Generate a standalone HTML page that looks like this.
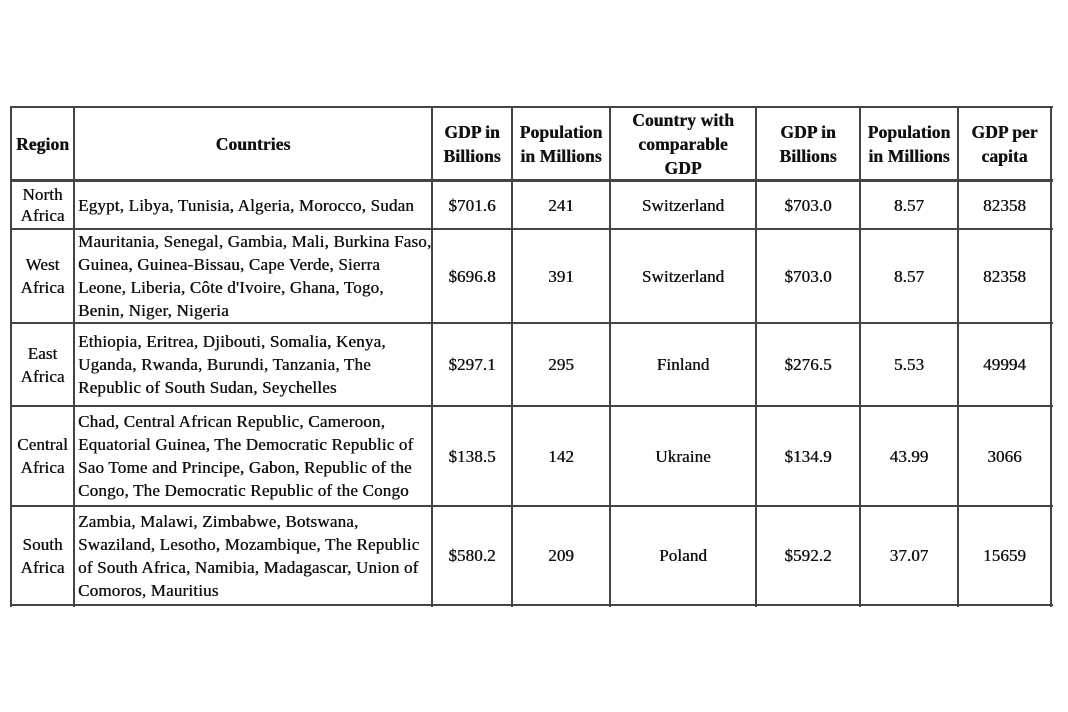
<!DOCTYPE html>
<html><head><style>
body{margin:0;width:1068px;height:712px;background:#fff;position:relative;font-family:"Liberation Serif",serif;color:#111;overflow:hidden}
.h{position:absolute;background:#444;height:2px}
.v{position:absolute;background:#444;width:2px;top:107px;height:500px}
.c{position:absolute;display:flex;align-items:center;justify-content:center;text-align:center;font-size:17px;line-height:23px;text-shadow:0.4px 0 0 #111;letter-spacing:0.1px}
.b{font-weight:bold;font-size:17.5px;line-height:24px}
.l{justify-content:flex-start;text-align:left;letter-spacing:0.2px;white-space:nowrap}
</style></head><body>
<div class="h" style="left:10px;width:1043px;top:106px"></div>
<div class="h" style="left:10px;width:1043px;top:179px;height:3px"></div>
<div class="h" style="left:10px;width:1043px;top:228px"></div>
<div class="h" style="left:10px;width:1043px;top:322px"></div>
<div class="h" style="left:10px;width:1043px;top:405px"></div>
<div class="h" style="left:10px;width:1043px;top:505px"></div>
<div class="h" style="left:10px;width:1043px;top:604px"></div>
<div class="v" style="left:10px"></div>
<div class="v" style="left:73px"></div>
<div class="v" style="left:431px"></div>
<div class="v" style="left:511px"></div>
<div class="v" style="left:609px"></div>
<div class="v" style="left:755px"></div>
<div class="v" style="left:859px"></div>
<div class="v" style="left:957px"></div>
<div class="v" style="left:1050px"></div>

<div class="c b" style="left:12px;width:61px;top:108px;height:71px">Region</div>
<div class="c b" style="left:75px;width:356px;top:108px;height:71px">Countries</div>
<div class="c b" style="left:433px;width:78px;top:108px;height:71px">GDP in<br>Billions</div>
<div class="c b" style="left:513px;width:96px;top:108px;height:71px">Population<br>in Millions</div>
<div class="c b" style="left:611px;width:144px;top:108px;height:71px">Country with<br>comparable<br>GDP</div>
<div class="c b" style="left:757px;width:102px;top:108px;height:71px">GDP in<br>Billions</div>
<div class="c b" style="left:861px;width:96px;top:108px;height:71px">Population<br>in Millions</div>
<div class="c b" style="left:959px;width:91px;top:108px;height:71px">GDP per<br>capita</div>

<div class="c" style="left:12px;width:61px;top:182px;height:46px;line-height:21px">North<br>Africa</div>
<div class="c l" style="left:78px;width:353px;top:182px;height:46px">Egypt, Libya, Tunisia, Algeria, Morocco, Sudan</div>
<div class="c" style="left:433px;width:78px;top:182px;height:46px">$701.6</div>
<div class="c" style="left:513px;width:96px;top:182px;height:46px">241</div>
<div class="c" style="left:611px;width:144px;top:182px;height:46px">Switzerland</div>
<div class="c" style="left:757px;width:102px;top:182px;height:46px">$703.0</div>
<div class="c" style="left:861px;width:96px;top:182px;height:46px">8.57</div>
<div class="c" style="left:959px;width:91px;top:182px;height:46px">82358</div>

<div class="c" style="left:12px;width:61px;top:230px;height:92px">West<br>Africa</div>
<div class="c l" style="left:78px;width:353px;top:230px;height:92px">Mauritania, Senegal, Gambia, Mali, Burkina Faso,<br>Guinea, Guinea-Bissau, Cape Verde, Sierra<br>Leone, Liberia, Côte d'Ivoire, Ghana, Togo,<br>Benin, Niger, Nigeria</div>
<div class="c" style="left:433px;width:78px;top:230px;height:92px">$696.8</div>
<div class="c" style="left:513px;width:96px;top:230px;height:92px">391</div>
<div class="c" style="left:611px;width:144px;top:230px;height:92px">Switzerland</div>
<div class="c" style="left:757px;width:102px;top:230px;height:92px">$703.0</div>
<div class="c" style="left:861px;width:96px;top:230px;height:92px">8.57</div>
<div class="c" style="left:959px;width:91px;top:230px;height:92px">82358</div>

<div class="c" style="left:12px;width:61px;top:324px;height:81px">East<br>Africa</div>
<div class="c l" style="left:78px;width:353px;top:324px;height:81px">Ethiopia, Eritrea, Djibouti, Somalia, Kenya,<br>Uganda, Rwanda, Burundi, Tanzania, The<br>Republic of South Sudan, Seychelles</div>
<div class="c" style="left:433px;width:78px;top:324px;height:81px">$297.1</div>
<div class="c" style="left:513px;width:96px;top:324px;height:81px">295</div>
<div class="c" style="left:611px;width:144px;top:324px;height:81px">Finland</div>
<div class="c" style="left:757px;width:102px;top:324px;height:81px">$276.5</div>
<div class="c" style="left:861px;width:96px;top:324px;height:81px">5.53</div>
<div class="c" style="left:959px;width:91px;top:324px;height:81px">49994</div>

<div class="c" style="left:12px;width:61px;top:407px;height:98px">Central<br>Africa</div>
<div class="c l" style="left:78px;width:353px;top:407px;height:98px">Chad, Central African Republic, Cameroon,<br>Equatorial Guinea, The Democratic Republic of<br>Sao Tome and Principe, Gabon, Republic of the<br>Congo, The Democratic Republic of the Congo</div>
<div class="c" style="left:433px;width:78px;top:407px;height:98px">$138.5</div>
<div class="c" style="left:513px;width:96px;top:407px;height:98px">142</div>
<div class="c" style="left:611px;width:144px;top:407px;height:98px">Ukraine</div>
<div class="c" style="left:757px;width:102px;top:407px;height:98px">$134.9</div>
<div class="c" style="left:861px;width:96px;top:407px;height:98px">43.99</div>
<div class="c" style="left:959px;width:91px;top:407px;height:98px">3066</div>

<div class="c" style="left:12px;width:61px;top:507px;height:97px">South<br>Africa</div>
<div class="c l" style="left:78px;width:353px;top:507px;height:97px">Zambia, Malawi, Zimbabwe, Botswana,<br>Swaziland, Lesotho, Mozambique, The Republic<br>of South Africa, Namibia, Madagascar, Union of<br>Comoros, Mauritius</div>
<div class="c" style="left:433px;width:78px;top:507px;height:97px">$580.2</div>
<div class="c" style="left:513px;width:96px;top:507px;height:97px">209</div>
<div class="c" style="left:611px;width:144px;top:507px;height:97px">Poland</div>
<div class="c" style="left:757px;width:102px;top:507px;height:97px">$592.2</div>
<div class="c" style="left:861px;width:96px;top:507px;height:97px">37.07</div>
<div class="c" style="left:959px;width:91px;top:507px;height:97px">15659</div>
</body></html>
